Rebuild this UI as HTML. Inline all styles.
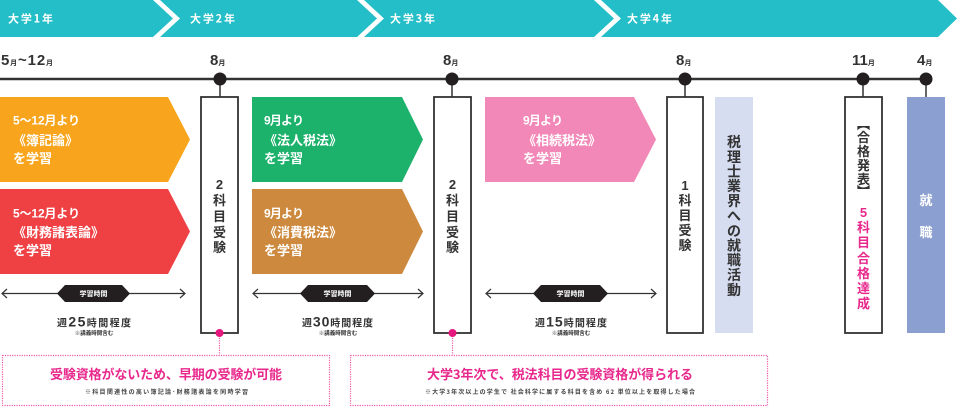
<!DOCTYPE html>
<html><head><meta charset="utf-8"><style>
html,body{margin:0;padding:0;background:#fff;width:960px;height:411px;overflow:hidden}
svg{display:block}
text{font-family:"Liberation Sans","Noto Sans CJK JP",sans-serif;font-weight:bold}
.j{font-family:"Noto Sans CJK JP","Liberation Sans",sans-serif}
</style></head><body>
<svg width="960" height="411" viewBox="0 0 960 411" xmlns="http://www.w3.org/2000/svg">
<!-- banner -->
<g fill="#23bec7">
<polygon points="0,0 153,0 173,18.5 153,37 0,37"/>
<polygon points="160,0 357,0 377,18.5 357,37 160,37 180,18.5"/>
<polygon points="364,0 594,0 614,18.5 594,37 364,37 384,18.5"/>
<polygon points="601,0 938,0 957,18.5 938,37 601,37 621,18.5"/>
</g>
<g fill="#fff" font-size="11" class="j">
<text x="8" y="22.5" textLength="45" class="j">大学1年</text>
<text x="190" y="22.5" textLength="45" class="j">大学2年</text>
<text x="390" y="22.5" textLength="45" class="j">大学3年</text>
<text x="627" y="22.5" textLength="45" class="j">大学4年</text>
</g>

<!-- timeline -->
<line x1="0" y1="79" x2="926" y2="79" stroke="#333" stroke-width="2.5"/>
<g stroke="#333" stroke-width="1.5">
<line x1="220" y1="79" x2="220" y2="97"/>
<line x1="452" y1="79" x2="452" y2="97"/>
<line x1="685" y1="79" x2="685" y2="97"/>
<line x1="863" y1="79" x2="863" y2="97"/>
<line x1="926" y1="79" x2="926" y2="97"/>
</g>
<g fill="#231f20">
<circle cx="220" cy="79" r="6.5"/><circle cx="452" cy="79" r="6.5"/><circle cx="685" cy="79" r="6.5"/><circle cx="863" cy="79" r="6.5"/><circle cx="926" cy="79" r="6.5"/>
</g>
<g fill="#333">
<text x="1" y="65" font-size="15" textLength="52"><tspan>5</tspan><tspan font-size="7" class="j">月</tspan><tspan>~12</tspan><tspan font-size="7" class="j">月</tspan></text>
<text x="210" y="65" font-size="15"><tspan>8</tspan><tspan font-size="7" class="j">月</tspan></text>
<text x="443" y="65" font-size="15"><tspan>8</tspan><tspan font-size="7" class="j">月</tspan></text>
<text x="676" y="65" font-size="15"><tspan>8</tspan><tspan font-size="7" class="j">月</tspan></text>
<text x="852" y="65" font-size="15"><tspan>11</tspan><tspan font-size="7" class="j">月</tspan></text>
<text x="917" y="65" font-size="15"><tspan>4</tspan><tspan font-size="7" class="j">月</tspan></text>
</g>

<!-- study blocks -->
<polygon points="0,97 168,97 190,139.5 168,182 0,182" fill="#f8a51d"/>
<polygon points="0,189 168,189 190,231.5 168,274 0,274" fill="#ef4044"/>
<polygon points="252,97 402,97 423,139.5 402,182 252,182" fill="#1cb26b"/>
<polygon points="252,189 402,189 423,231.5 402,274 252,274" fill="#cd8a3e"/>
<polygon points="485,97 634,97 656,139.5 634,182 485,182" fill="#f288b7"/>

<g fill="#fff">
<text x="13" y="124.5" font-size="12" textLength="67">5～12<tspan class="j">月より</tspan></text>
<text x="13" y="145" font-size="13" class="j">《簿記論》</text>
<text x="13" y="163" font-size="13" class="j">を学習</text>

<text x="13" y="217.5" font-size="12" textLength="67">5～12<tspan class="j">月より</tspan></text>
<text x="13" y="237" font-size="13" class="j">《財務諸表論》</text>
<text x="13" y="255" font-size="13" class="j">を学習</text>

<text x="264" y="124.5" font-size="12" textLength="40">9<tspan class="j">月より</tspan></text>
<text x="264" y="145" font-size="13" class="j">《法人税法》</text>
<text x="264" y="163" font-size="13" class="j">を学習</text>

<text x="264" y="217.5" font-size="12" textLength="40">9<tspan class="j">月より</tspan></text>
<text x="264" y="237" font-size="13" class="j">《消費税法》</text>
<text x="264" y="255" font-size="13" class="j">を学習</text>

<text x="523" y="124.5" font-size="12" textLength="40">9<tspan class="j">月より</tspan></text>
<text x="523" y="145" font-size="13" class="j">《相続税法》</text>
<text x="523" y="163" font-size="13" class="j">を学習</text>
</g>

<!-- exam boxes -->
<g fill="#fff" stroke="#333" stroke-width="1.8">
<rect x="201" y="97" width="37" height="236"/>
<rect x="434" y="97" width="37" height="236"/>
<rect x="667" y="97" width="36" height="236"/>
<rect x="845" y="97" width="37" height="236"/>
</g>
<rect x="715" y="97" width="38" height="236" fill="#d6ddf0"/>
<rect x="907" y="97" width="38" height="236" fill="#8b9fd0"/>

<g fill="#333" font-size="13" text-anchor="middle" class="j">
<text x="219.5" y="189">2</text><text x="219.5" y="205">科</text><text x="219.5" y="221">目</text><text x="219.5" y="237">受</text><text x="219.5" y="252">験</text>
<text x="452.5" y="189">2</text><text x="452.5" y="205">科</text><text x="452.5" y="221">目</text><text x="452.5" y="237">受</text><text x="452.5" y="252">験</text>
<text x="685" y="190">1</text><text x="685" y="205">科</text><text x="685" y="220">目</text><text x="685" y="235">受</text><text x="685" y="250">験</text>
</g>
<g fill="#333" font-size="14" text-anchor="middle" class="j">
<text x="734" y="147">税</text><text x="734" y="162">理</text><text x="734" y="176.5">士</text><text x="734" y="191">業</text><text x="734" y="206">界</text><text x="734" y="221">へ</text><text x="734" y="236">の</text><text x="734" y="250.5">就</text><text x="734" y="265">職</text><text x="734" y="280">活</text><text x="734" y="295">動</text>
</g>
<g fill="#333" font-size="13" text-anchor="middle" class="j">
<text x="863.5" y="129">︻</text><text x="863.5" y="142">合</text><text x="863.5" y="156">格</text><text x="863.5" y="170">発</text><text x="863.5" y="184">表</text><text x="863.5" y="196">︼</text>
</g>
<g fill="#e8288c" font-size="13" text-anchor="middle" class="j">
<text x="863.5" y="217">5</text><text x="863.5" y="232">科</text><text x="863.5" y="247">目</text><text x="863.5" y="263">合</text><text x="863.5" y="278">格</text><text x="863.5" y="293">達</text><text x="863.5" y="308">成</text>
</g>
<g fill="#fff" font-size="13" text-anchor="middle" class="j">
<text x="926" y="205">就</text><text x="926" y="237">職</text>
</g>

<!-- study time arrows -->
<g stroke="#333" stroke-width="1.2" fill="none">
<line x1="2" y1="293.5" x2="185" y2="293.5"/>
<polyline points="7,289 2,293.5 7,298"/><polyline points="180,289 185,293.5 180,298"/>
<line x1="253" y1="293.5" x2="423" y2="293.5"/>
<polyline points="258,289 253,293.5 258,298"/><polyline points="418,289 423,293.5 418,298"/>
<line x1="486" y1="293.5" x2="656" y2="293.5"/>
<polyline points="491,289 486,293.5 491,298"/><polyline points="651,289 656,293.5 651,298"/>
</g>
<g fill="#231f20">
<polygon points="57,293.5 65,285 122,285 130,293.5 122,302 65,302"/>
<polygon points="300,293.5 308,285 367,285 375,293.5 367,302 308,302"/>
<polygon points="533,293.5 541,285 600,285 608,293.5 600,302 541,302"/>
</g>
<g fill="#fff" font-size="7" text-anchor="middle" class="j">
<text x="93.5" y="296">学習時間</text>
<text x="337.5" y="296">学習時間</text>
<text x="570.5" y="296">学習時間</text>
</g>
<g fill="#333" class="j">
<text x="57" y="326.5" font-size="10" textLength="74" class="j">週<tspan font-size="14" font-family="Liberation Sans">25</tspan>時間程度</text>
<text x="302" y="326.5" font-size="10" textLength="71" class="j">週<tspan font-size="14" font-family="Liberation Sans">30</tspan>時間程度</text>
<text x="535" y="326.5" font-size="10" textLength="72" class="j">週<tspan font-size="14" font-family="Liberation Sans">15</tspan>時間程度</text>
<text x="94" y="335" font-size="5.5" text-anchor="middle" class="j">※講義時間含む</text>
<text x="338" y="335" font-size="5.5" text-anchor="middle" class="j">※講義時間含む</text>
<text x="571" y="335" font-size="5.5" text-anchor="middle" class="j">※講義時間含む</text>
</g>

<!-- callouts -->
<g stroke="#ee5aa6" stroke-width="1.2" fill="none" stroke-dasharray="1.2 1.2">
<line x1="219.5" y1="333" x2="219.5" y2="355"/>
<line x1="452.5" y1="333" x2="452.5" y2="355"/>
<rect x="2.5" y="355.5" width="327" height="50"/>
<rect x="350.5" y="355.5" width="417" height="50"/>
</g>
<circle cx="219.5" cy="333" r="4" fill="#e6177f"/>
<circle cx="452.5" cy="333" r="4" fill="#e6177f"/>
<g fill="#e8288c" font-size="13" class="j">
<text x="50" y="379" textLength="232" class="j">受験資格がないため、早期の受験が可能</text>
<text x="427" y="379" textLength="266" class="j">大学3年次で、税法科目の受験資格が得られる</text>
</g>
<g fill="#444" font-size="6" class="j">
<text x="85" y="394" textLength="163" class="j">※科目関連性の高い簿記論･財務諸表論を同時学習</text>
<text x="425" y="394" textLength="270" class="j">※大学3年次以上の学生で 社会科学に属する科目を含め 62 単位以上を取得した場合</text>
</g>
</svg>
</body></html>
